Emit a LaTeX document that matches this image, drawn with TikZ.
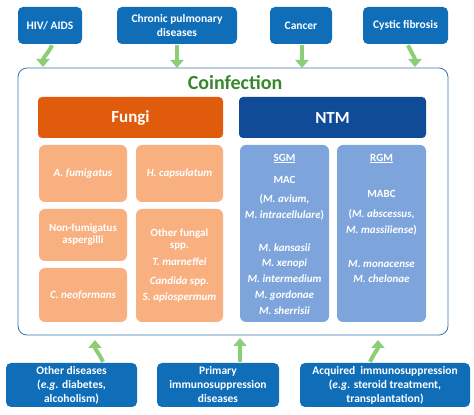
\documentclass[tikz,border=0pt]{standalone}
\usepackage{fontspec}
\setmainfont{Carlito}
\usetikzlibrary{arrows.meta,positioning}

\definecolor{causeblue}{RGB}{16,110,185}
\definecolor{arrowgreen}{RGB}{140,205,120}
\definecolor{coinfgreen}{RGB}{55,135,45}
\definecolor{frameblue}{RGB}{60,115,170}
\definecolor{fungiorange}{RGB}{224,92,12}
\definecolor{lightorange}{RGB}{248,176,128}
\definecolor{ntmblue}{RGB}{15,75,150}
\definecolor{lightblue}{RGB}{125,165,220}

\begin{document}
\begin{tikzpicture}[x=1pt,y=1pt,
                    cause/.style={fill=causeblue,rounded corners=5pt,text=white,
                      font=\bfseries\fontsize{11.5}{14}\selectfont,align=center,
                      inner sep=0pt,minimum height=37pt},
                    header/.style={rounded corners=4pt,text=white,
                      font=\bfseries\fontsize{17}{20}\selectfont,inner sep=0pt,
                      minimum height=41pt},
                    fungus/.style={fill=lightorange,rounded corners=6pt,text=white,
                      font=\bfseries\fontsize{11}{12}\selectfont,align=center,
                      inner sep=0pt,minimum width=88pt},
                    group/.style={fill=lightblue,rounded corners=6pt,inner sep=0pt,
                      minimum width=89pt,minimum height=177pt},
                    species/.style={text=white,font=\bfseries\fontsize{11}{15.75}\selectfont,
                      align=center,inner sep=0pt,anchor=north},
                    feed/.style={draw=arrowgreen,line width=4pt,
                      -{Triangle[width=13pt,length=8pt]}}]

  \useasboundingbox (0,0) rectangle (474,415);

  % predisposing conditions above
  \node[cause,minimum width=64pt]  (hiv)     at (50,389.5)    {HIV/ AIDS};
  \node[cause,minimum width=120pt] (chronic) at (177,389.5)   {Chronic pulmonary\\diseases};
  \node[cause,minimum width=62pt]  (cancer)  at (301,389.5)   {Cancer};
  \node[cause,minimum width=85pt]  (cystic)  at (405.5,389.5) {Cystic fibrosis};

  % coinfection frame
  \node[draw=frameblue,line width=0.8pt,rounded corners=9pt,minimum width=430pt,
        minimum height=267pt,inner sep=0pt] (coinf) at (233,213.5) {};
  \node[text=coinfgreen,font=\bfseries\fontsize{20}{24}\selectfont] (title) at (235,332) {Coinfection};

  % fungi
  \node[header,fill=fungiorange,minimum width=185pt] (fungi) at (130.5,297.5) {Fungi};
  \node[fungus,minimum height=57pt] (afum)   at (83,241.5)    {\itshape A. fumigatus};
  \node[fungus,minimum height=57pt,minimum width=87pt] (hcap) at (179.5,241.5) {\itshape H. capsulatum};
  \node[fungus,minimum height=52pt] (nonfum) at (83,180)      {Non-fumigatus\\aspergilli};
  \node[fungus,minimum height=54pt] (cneo)   at (83,120)      {\itshape C. neoformans};
  \node[fungus,minimum height=113pt,minimum width=87pt] (otherf) at (179.5,149.5)
       {Other fungal\\spp.\\[5pt]\itshape T. marneffei\\[7pt]\textit{Candida} spp.\\[4pt]\itshape S. apiospermum};

  % NTM
  \node[header,fill=ntmblue,minimum width=187pt] (ntm) at (332.5,297.5) {NTM};
  \node[group] (sgm) at (284.5,181.5) {};
  \node[group] (rgm) at (381.5,181.5) {};
  \node[species] (sgmtext) at ([yshift=-9pt]sgm.north)
       {\underline{SGM}\\[6.5pt]MAC\\[3.5pt](\textit{M. avium},\\\textit{M. intracellulare})\\[17pt]
        \itshape M. kansasii\\\itshape M. xenopi\\\itshape M. intermedium\\
        \itshape M. gordonae\\\itshape M. sherrisii};
  \node[species] (rgmtext) at ([yshift=-9pt]rgm.north)
       {\underline{RGM}\\[21pt]MABC\\[4pt](\textit{M. abscessus},\\\textit{M. massiliense})\\[18pt]
        \itshape M. monacense\\\itshape M. chelonae};

  % predisposing conditions below
  \node[cause,minimum width=131pt,minimum height=44pt] (otherdis) at (71.5,30)
       {Other diseases\\(\textit{e.g.} diabetes,\\alcoholism)};
  \node[cause,minimum width=122pt,minimum height=44pt] (primary)  at (218,30)
       {Primary\\immunosuppression\\diseases};
  \node[cause,minimum width=170pt,minimum height=44pt] (acquired) at (385,30)
       {Acquired\ \ immunosuppression\\(\textit{e.g.} steroid treatment,\\transplantation)};

  % arrow ends on the frame
  \coordinate (hivin)      at (43,348);
  \coordinate (chronicin)  at (177,347);
  \coordinate (cancerin)   at (302,347);
  \coordinate (cysticin)   at (415,348);
  \coordinate (otherin)    at (95,75);
  \coordinate (primaryin)  at (240,77);
  \coordinate (acquiredin) at (378,75);

  \path ([xshift=2pt,yshift=-1pt]hiv.south)      edge[feed,out=-115,in=90] (hivin)
        ([yshift=-1pt]chronic.south)             edge[feed]                (chronicin)
        ([xshift=1pt,yshift=-1pt]cancer.south)   edge[feed]                (cancerin)
        ([xshift=2.5pt,yshift=-1pt]cystic.south) edge[feed,out=-65,in=90]  (cysticin)
        ([xshift=31.5pt,yshift=1pt]otherdis.north) edge[feed,out=115,in=-90] (otherin)
        ([xshift=22pt,yshift=1pt]primary.north)  edge[feed]                (primaryin)
        ([xshift=-15pt,yshift=1pt]acquired.north) edge[feed,out=65,in=-90] (acquiredin);
\end{tikzpicture}
\end{document}
